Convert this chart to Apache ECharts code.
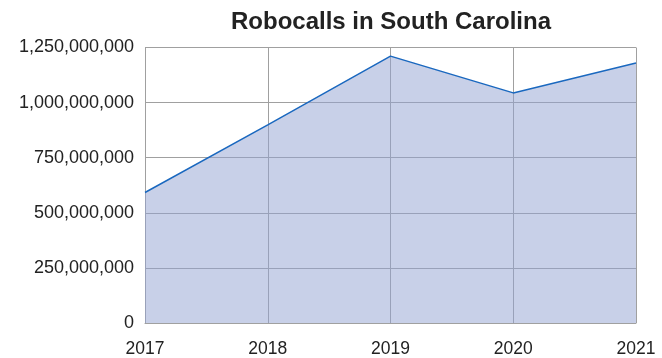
<!DOCTYPE html>
<html>
<head>
<meta charset="utf-8">
<script src="https://cdn.jsdelivr.net/npm/echarts@6/dist/echarts.min.js"></script>
<style>
  html, body { margin: 0; padding: 0; background: #ffffff; }
  #chart { width: 662px; height: 358px; }
</style>
</head>
<body>
<div id="chart"></div>
<script>
// Annual robocall volume in South Carolina
const years = ['2017', '2018', '2019', '2020', '2021'];
const robocalls = [592000000, 899000000, 1211000000, 1044000000, 1180000000];

const chart = echarts.init(document.getElementById('chart'), null, { renderer: 'canvas' });

const fmt = v => Math.round(v).toString().replace(/\B(?=(\d{3})+(?!\d))/g, ',');
const FONT = 'Liberation Sans, Arial, sans-serif';

chart.setOption({
  backgroundColor: '#ffffff',
  animation: false,
  title: {
    text: 'Robocalls in South Carolina',
    left: 226,
    top: 5,
    textStyle: {
      fontFamily: FONT,
      fontSize: 24,
      fontWeight: 'bold',
      color: '#222222'
    }
  },
  grid: { left: 145, right: 26, top: 47.5, bottom: 34.5 },
  xAxis: {
    type: 'category',
    data: years,
    boundaryGap: false,
    axisLine: { show: true, lineStyle: { color: '#a0a0a0', width: 1 } },
    axisTick: { show: false },
    splitLine: { show: true, lineStyle: { color: '#a0a0a0', width: 1 } },
    axisLabel: {
      margin: 17,
      color: '#222222',
      fontSize: 17.5,
      fontFamily: FONT
    }
  },
  yAxis: {
    type: 'value',
    min: 0,
    max: 1250000000,
    interval: 250000000,
    axisLine: { show: true, lineStyle: { color: '#a0a0a0', width: 1 } },
    axisTick: { show: false },
    splitLine: { show: true, lineStyle: { color: '#a0a0a0', width: 1 } },
    axisLabel: {
      margin: 11,
      color: '#222222',
      fontSize: 18,
      fontFamily: FONT,
      formatter: fmt
    }
  },
  series: [{
    type: 'line',
    data: robocalls,
    symbol: 'none',
    lineStyle: { color: '#1a68bf', width: 1.5 },
    areaStyle: { color: 'rgba(145,161,209,0.5)', opacity: 1 }
  }]
});
</script>
</body>
</html>
